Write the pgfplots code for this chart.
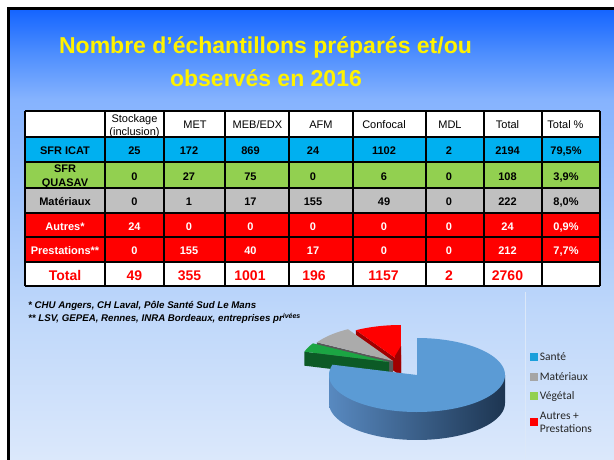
\documentclass[border=0pt]{standalone}
\usepackage{fontspec}
\setmainfont{Liberation Sans}
\newfontfamily\carlito{Carlito}
\usepackage{pgfplots}
\pgfplotsset{compat=1.18}

\definecolor{bgA}{HTML}{1565FF}
\definecolor{bgB}{HTML}{4F8FFE}
\definecolor{bgC}{HTML}{86B3FE}
\definecolor{bgD}{HTML}{A3C6FB}
\definecolor{bgE}{HTML}{BED7FA}
\definecolor{bgF}{HTML}{DBE8FB}
\pgfdeclareverticalshading{slidebg}{100bp}{color(0bp)=(bgF); color(25bp)=(bgF); color(41.59bp)=(bgE); color(52.73bp)=(bgD); color(64.98bp)=(bgC); color(69.99bp)=(bgB); color(75bp)=(bgA); color(100bp)=(bgA)}

\definecolor{icat}{HTML}{00B0F0}
\definecolor{quasav}{HTML}{92D050}
\definecolor{matgray}{HTML}{C0C0C0}
\definecolor{rouge}{HTML}{FF0000}

\definecolor{santeTop}{HTML}{5B9BD5}
\definecolor{santeL}{HTML}{5889C0}
\definecolor{santeM}{HTML}{3C6B9C}
\definecolor{santeR}{HTML}{1D3551}
\definecolor{vegTop}{HTML}{1BA543}
\definecolor{vegSide}{HTML}{0C5A26}
\definecolor{matTop}{HTML}{ABABAB}
\definecolor{matSide}{HTML}{585858}
\definecolor{autTop}{HTML}{FF0000}
\definecolor{autSide}{HTML}{A00000}
\definecolor{legSante}{HTML}{1A9FDB}
\definecolor{legMat}{HTML}{A5A5A5}
\definecolor{legVeg}{HTML}{92D050}
\definecolor{legAut}{HTML}{FF0000}
\definecolor{sepline}{HTML}{DCE8F8}

% pie data (number of samples)
\def\nSante{2194}
\def\nVeg{108}
\def\nMat{222}
\def\nAut{236}

\newcommand\tabrow[3]{\foreach \xx/\vv in {#3} \node[#2, anchor=base, inner sep=0pt] at (\xx,#1) {\vv};}

\begin{document}
\begin{tikzpicture}[x=1pt,y=-1pt]
\useasboundingbox (0,0) rectangle (614,459);
\clip (0,0) rectangle (614,459);
\fill[white] (0,0) rectangle (614,459);
\shade[shading=slidebg] (9.5,9.5) rectangle (614,459);
\draw[line width=3pt] (8,470) -- (8,8) -- (620,8);

% title
\node[anchor=base, text=yellow, font=\fontsize{23}{27}\selectfont\bfseries, inner sep=0pt] at (265.5,53) {Nombre d’échantillons préparés et/ou};
\node[anchor=base, text=yellow, font=\fontsize{23}{27}\selectfont\bfseries, inner sep=0pt] at (266,86) {observés en 2016};

% table
\fill[white] (25,111) rectangle (600,137);
\fill[icat] (25,137) rectangle (600,162);
\fill[quasav] (25,162) rectangle (600,188);
\fill[matgray] (25,188) rectangle (600,213);
\fill[rouge] (25,213) rectangle (600,262);
\fill[white] (25,262) rectangle (600,286);
\foreach \y in {111,137,162,188,213,237,262,286} \draw[line width=1.2pt] (25,\y) -- (600,\y);
\foreach \x in {25,105,164,225,289,353,426,484,542,600} \draw[line width=1.2pt] (\x,111) -- (\x,286);

\tikzset{hd/.style={font=\fontsize{11}{13}\selectfont},
         bd/.style={font=\fontsize{11}{13}\selectfont\bfseries},
         bw/.style={font=\fontsize{11}{13}\selectfont\bfseries, text=white},
         tt/.style={font=\fontsize{14}{16}\selectfont\bfseries, text=rouge}}
\tabrow{122}{hd}{134.5/Stockage}
\tabrow{135}{hd}{134.5/(inclusion)}
\tabrow{128}{hd}{195/MET, 257.5/{MEB/EDX}, 321/AFM, 384/Confocal, 450/MDL, 507.5/Total, 565.5/{Total \%}}

\tabrow{154}{bd}{65/{SFR ICAT}, 134.5/25, 189/172, 250.5/869, 313/24, 384/1102, 449/2, 507.5/2194, 566/{79,5\%}}
\tabrow{172}{bd}{65/SFR}
\tabrow{186}{bd}{65/QUASAV}
\tabrow{180}{bd}{134.5/0, 189/27, 250.5/75, 313/0, 384/6, 449/0, 507.5/108, 566/{3,9\%}}
\tabrow{205.7}{bd}{65/Matériaux, 134.5/0, 189/1, 250.5/17, 313/155, 384/49, 449/0, 507.5/222, 566/{8,0\%}}
\tabrow{230}{bw}{65/Autres*, 134.5/24, 189/0, 250.5/0, 313/0, 384/0, 449/0, 507.5/24, 566/{0,9\%}}
\tabrow{254}{bw}{65/Prestations**, 134.5/0, 189/155, 250.5/40, 313/17, 384/0, 449/0, 507.5/212, 566/{7,7\%}}
\tabrow{280}{tt}{65/Total, 134.5/49, 189.5/355, 250/1001, 314/196, 383.5/1157, 449/2, 507.5/2760}

% footnotes
\node[anchor=base west, inner sep=0pt, font=\fontsize{9.7}{11}\selectfont\bfseries\itshape] at (28,308) {* CHU Angers, CH Laval, Pôle Santé Sud Le Mans};
\node[anchor=base west, inner sep=0pt, font=\fontsize{9.7}{11}\selectfont\bfseries\itshape] at (28,321.5) {** LSV, GEPEA, Rennes, INRA Bordeaux, entreprises pr\raisebox{3pt}{\fontsize{7}{8}\selectfont ivées}};

\draw[sepline, line width=0.8pt] (525,292) -- (525,459);

\pgfmathsetmacro\tot{\nSante+\nVeg+\nMat+\nAut}
\pgfmathsetmacro\aA{90-360*(\nSante/\tot)}
\pgfmathsetmacro\aB{\aA-360*(\nVeg/\tot)}
\pgfmathsetmacro\aC{\aB-360*(\nMat/\tot)}
\pgfmathsetmacro\aD{\aC-360*(\nAut/\tot)}

\begin{axis}[
  at={(280pt,-459pt)}, anchor=south west,
  x=1pt, y=1pt, xmin=-137, xmax=197, ymin=-84, ymax=75,
  hide axis, clip=false,
  legend style={at={(axis cs:113,23.5)}, anchor=north west, draw=none, fill=none,
    inner sep=0pt, outer sep=0pt, font=\carlito\fontsize{11.5}{13}\selectfont,
    text=black!85, row sep=9pt, nodes={inner sep=0pt, align=left},
    /tikz/every odd column/.append style={column sep=2.5pt}},
  legend cell align=left,
]
% Autres + Prestations (exploded)
\addplot[forget plot, draw=none, fill=autSide, samples at={0,1,2,3}, variable=\t]
  ({-16 + 88*cos(\aC)*(\t>0.5)*(\t<2.5)}, {13 + 37*sin(\aC)*(\t>0.5)*(\t<2.5) - 14*(\t>1.5)});
\addplot[forget plot, draw=none, fill=autTop, domain=\aD:\aC, samples=30, variable=\t]
  ({-16+88*cos(\t)}, {13+37*sin(\t)}) -- (axis cs:-16,13) -- cycle;
\addplot[forget plot, draw=none, fill=autSide] coordinates {(-22,19) (-16,29) (-16,2) (-21,4)};
% Materiaux
\addplot[forget plot, draw=none, fill=matSide, samples at={0,1,2,3}, variable=\t]
  ({-24 + 88*cos(\aB)*(\t>0.5)*(\t<2.5)}, {14 + 37*sin(\aB)*(\t>0.5)*(\t<2.5) - 14*(\t>1.5)});
\addplot[forget plot, draw=none, fill=matTop, domain=\aC:\aB, samples=30, variable=\t]
  ({-24+88*cos(\t)}, {14+37*sin(\t)}) -- (axis cs:-24,14) -- cycle;
% Vegetal
\addplot[forget plot, draw=none, fill=vegSide, samples at={0,1,2,3}, variable=\t]
  ({-28 + 88*cos(\aA)*(\t>0.5)*(\t<2.5)}, {13 + 37*sin(\aA)*(\t>0.5)*(\t<2.5) - 14*(\t>1.5)});
\addplot[forget plot, draw=none, fill=vegTop, domain=\aB:\aA, samples=20, variable=\t]
  ({-28+88*cos(\t)}, {13+37*sin(\t)}) -- (axis cs:-28,13) -- cycle;
% Sante
\addplot[forget plot, draw=none, left color=santeL, middle color=santeM, right color=santeR, domain=-180:0, samples=80, variable=\t]
  ({88*cos(\t)}, {37*sin(\t)-28}) -- (axis cs:88,0) -- (axis cs:-88,0) -- cycle;
\addplot[forget plot, draw=none, fill=santeTop, domain=\aA:90, samples=120, variable=\t]
  ({88*cos(\t)}, {37*sin(\t)}) -- (axis cs:0,0) -- cycle;

\addlegendimage{legend image code/.code={\fill[legSante] (0pt,-3.5pt) rectangle (7pt,3.5pt);}}
\addlegendentry{\strut Santé}
\addlegendimage{legend image code/.code={\fill[legMat] (0pt,-3.5pt) rectangle (7pt,3.5pt);}}
\addlegendentry{\strut Matériaux}
\addlegendimage{legend image code/.code={\fill[legVeg] (0pt,-3.5pt) rectangle (7pt,3.5pt);}}
\addlegendentry{\strut Végétal}
\addlegendimage{legend image code/.code={\fill[legAut] (0pt,-3.5pt) rectangle (7pt,3.5pt);}}
\addlegendentry{\strut Autres +\\\strut Prestations}
\end{axis}
\end{tikzpicture}
\end{document}
